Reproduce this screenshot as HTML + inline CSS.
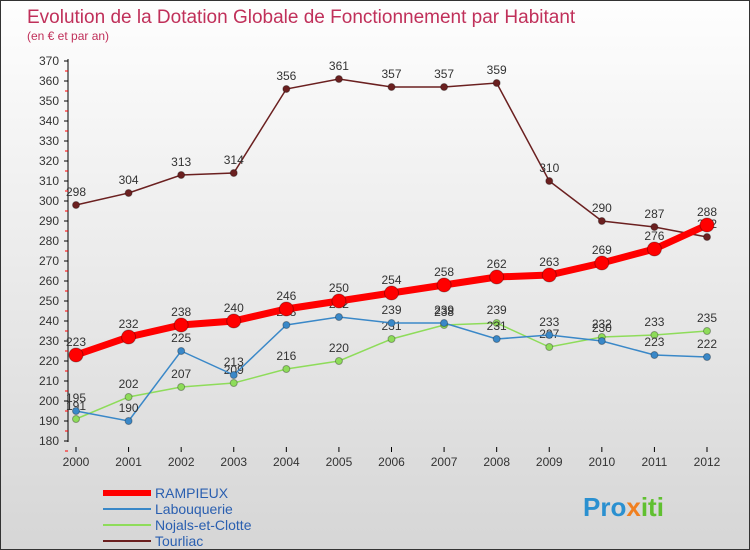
<!DOCTYPE html>
<html><head><meta charset="utf-8"><style>
body{margin:0}
#c{width:748px;height:548px;border:1px solid #333;background:linear-gradient(#fefefe,#d6d6d6);position:relative;font-family:"Liberation Sans",sans-serif;overflow:hidden}
text{font-family:"Liberation Sans",sans-serif}
</style></head><body>
<div id="c">
<svg id="s" width="748" height="548">
<text x="26" y="22" font-size="19" fill="#c0305a">Evolution de la Dotation Globale de Fonctionnement par Habitant</text>
<text x="26" y="39" font-size="12" fill="#c0305a">(en € et par an)</text>
<g id="ax"></g><g id="series"></g>
<g>
<line x1="102" y1="492" x2="150" y2="492" stroke="#f00" stroke-width="6"/>
<text x="154" y="497" font-size="14" fill="#2a5fb0">RAMPIEUX</text>
<line x1="102" y1="508" x2="150" y2="508" stroke="#3a88c8" stroke-width="2"/>
<text x="154" y="513" font-size="14" fill="#2a5fb0">Labouquerie</text>
<line x1="102" y1="524" x2="150" y2="524" stroke="#8edc5a" stroke-width="2"/>
<text x="154" y="529" font-size="14" fill="#2a5fb0">Nojals-et-Clotte</text>
<line x1="102" y1="540" x2="150" y2="540" stroke="#6b2020" stroke-width="2"/>
<text x="154" y="545" font-size="14" fill="#2a5fb0">Tourliac</text>
</g>
<text x="582" y="515" font-size="26" font-weight="bold" fill="#2a90d0">Pro<tspan fill="#f08020">x</tspan><tspan fill="#60c030">iti</tspan></text>
</svg></div>
<script>
const years=[2000,2001,2002,2003,2004,2005,2006,2007,2008,2009,2010,2011,2012];
const yTicks=[180,190,200,210,220,230,240,250,260,270,280,290,300,310,320,330,340,350,360,370];
const rampieux=[223,232,238,240,246,250,254,258,262,263,269,276,288];
const labouquerie=[195,190,225,213,238,242,239,239,231,233,230,223,222];
const nojals=[191,202,207,209,216,220,231,238,239,227,232,233,235];
const tourliac=[298,304,313,314,356,361,357,357,359,310,290,287,282];
const NS="http://www.w3.org/2000/svg";
const X=i=>75+i*(706-75)/12, Y=v=>440-(v-180)*2;
function mk(t,a,p){const e=document.createElementNS(NS,t);for(const k in a)e.setAttribute(k,a[k]);p.appendChild(e);return e;}
const ax=document.getElementById('ax');
const axl=mk('line',{x1:67,y1:58,x2:67,y2:441,stroke:'#000'},ax);


yTicks.forEach(v=>{mk('line',{x1:63,x2:67,y1:Y(v),y2:Y(v),stroke:'#000'},ax);
 mk('line',{x1:64,x2:67,y1:Y(v)+10,y2:Y(v)+10,stroke:'#f00'},ax);
 const t=mk('text',{x:58,y:Y(v)+4,'font-size':12,'text-anchor':'end',fill:'#333'},ax);t.textContent=v;
 
 });
years.forEach((yr,i)=>{mk('line',{x1:X(i),x2:X(i),y1:446,y2:451,stroke:'#000'},ax);
 const t=mk('text',{x:X(i),y:465,'font-size':12,'text-anchor':'middle',fill:'#333'},ax);t.textContent=yr;
 
 });
const sg=document.getElementById('series');
function draw(data,col,w,r,name){const g=mk('g',{},sg);
 
 
 mk('polyline',{points:data.map((v,i)=>X(i)+','+Y(v)).join(' '),fill:'none',stroke:col,'stroke-width':w},g);
 data.forEach((v,i)=>{const c=mk('circle',{cx:X(i),cy:Y(v),r:r,fill:col,stroke:'rgba(0,0,0,0.3)'},g);
  
  
  const t=mk('text',{x:X(i),y:Y(v)-9,'font-size':12,'text-anchor':'middle',fill:'#333'},g);t.textContent=v;
  
  });}
draw(tourliac,'#6b2020',1.5,3.5,'tourliac-series');
draw(nojals,'#8edc5a',1.5,3.5,'nojals-series');
draw(labouquerie,'#3a88c8',1.5,3.5,'labouquerie-series');
draw(rampieux,'#f00',7,7,'rampieux-series');
</script></body></html>
